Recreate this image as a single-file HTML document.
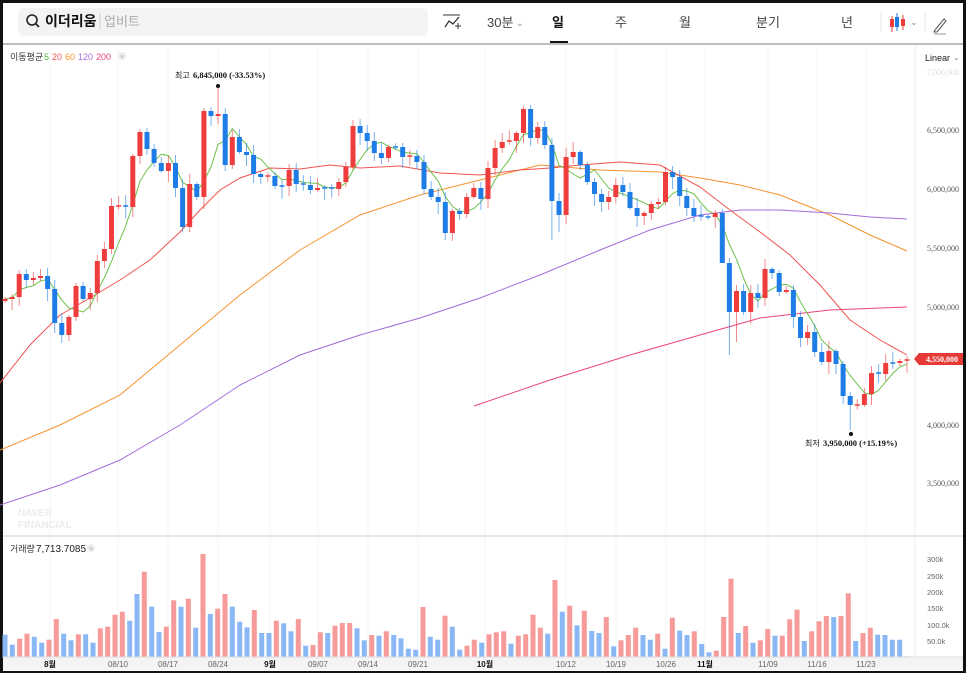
<!DOCTYPE html>
<html><head><meta charset="utf-8"><style>
*{margin:0;padding:0;box-sizing:border-box}
body{width:966px;height:673px;background:#111;overflow:hidden;font-family:"Liberation Sans","Noto Sans CJK KR",sans-serif}
#w{position:absolute;left:3px;top:3px;width:960px;height:668px;background:#fff;overflow:hidden}
</style></head><body>
<div id="w"></div>
<svg id="s" width="966" height="673" style="position:absolute;left:0;top:0" xmlns="http://www.w3.org/2000/svg"></svg>
<script>
(function(){
var S=document.getElementById('s');var h='';
function L(x1,y1,x2,y2,c,w,op){h+='<line x1="'+x1+'" y1="'+y1+'" x2="'+x2+'" y2="'+y2+'" stroke="'+c+'" stroke-width="'+(w||1)+'"'+(op?' opacity="'+op+'"':'')+'/>';}
function R(x,y,w,hh,c,o){h+='<rect x="'+x+'" y="'+y+'" width="'+w+'" height="'+hh+'" fill="'+c+'"'+(o?' opacity="'+o+'"':'')+'/>';}
function T(x,y,s,sz,c,extra){h+='<text x="'+x+'" y="'+y+'" font-size="'+sz+'" fill="'+c+'" '+(extra||'')+'>'+s+'</text>';}
function P(pts,c,w){h+='<polyline fill="none" stroke="'+c+'" stroke-width="'+(w||1)+'" points="'+pts.map(function(p){return p.join(',')}).join(' ')+'"/>';}
// top bar
R(3,3,960,41,'#fff');
h+='<rect x="18" y="8" width="410" height="28" rx="5" fill="#f2f3f5"/>';
h+='<circle cx="32" cy="20" r="5" fill="none" stroke="#222" stroke-width="1.6"/>';L(36,24,39,27,'#222',1.8);
T(45,26,'이더리움',14,'#111','font-weight="bold"');
L(100,13,100,29,'#ccc');T(104,26,'업비트',13,'#aaa');
P([[445,27],[449,21],[453,24],[459,17]],'#333',1.3);L(443,15,460,15,'#333',1);L(455,26,461,26,'#333',1);L(458,23,458,29,'#333',1);
T(487,27,'30분',13,'#444');T(516,26,'⌄',9,'#888');
T(552,27,'일',13,'#111','font-weight="bold"');R(550,41,18,3,'#111');
T(615,27,'주',13,'#444');T(679,27,'월',13,'#444');T(756,27,'분기',13,'#444');T(841,27,'년',13,'#444');
L(881,12,881,32,'#e5e5e5');L(925,12,925,32,'#e5e5e5');
L(892,16,892,32,'#ef3c3c');R(890,19,4,8,'#ef3c3c');L(897,13,897,31,'#1e7ce6');R(895,17,4,10,'#1e7ce6');L(903,15,903,30,'#ef3c3c');R(901,19,4,7,'#ef3c3c');
T(910,25,'⌄',9,'#888');
P([[935,30],[944,19],[946,21],[937,32],[934,32],[935,30]],'#555',1);L(934,34,946,34,'#999');
R(3,43,960,2,'#bdbdbd');
var gx=[50,118,168,218,270,318,368,418,485,566,616,666,705,768,817,866];
gx.forEach(function(x){L(x,45,x,656,'#f4f4f4');});
L(915,45,915,656,'#eee');
T(10,60,'이동평균',9,'#333');T(44,60,'5',9,'#56b848');T(52,60,'20',9,'#ef5350');T(65,60,'60',9,'#f7932f');T(78,60,'120',9,'#a46cdb');T(96,60,'200',9,'#e8457c');
h+='<circle cx="122" cy="56" r="4" fill="#eee"/>';T(120,59,'×',7,'#aaa');
T(925,61,'Linear',9,'#222');T(953,60,'⌄',8,'#888');
[[130,'6,500,000'],[189,'6,000,000'],[248,'5,500,000'],[307,'5,000,000'],[425,'4,000,000'],[483,'3,500,000']].forEach(function(a){T(927,a[0]+3,a[1],8,'#555','font-family="Liberation Serif"');});
T(927,75,'7,000,000',8,'#ddd','font-family="Liberation Serif"');
T(18,516,'NAVER',10,'#ececec','font-weight="bold"');T(18,528,'FINANCIAL',10,'#ececec','font-weight="bold"');
P([[0,450],[60,425],[120,395],[180,345],[240,295],[300,250],[360,215],[420,195],[480,180],[540,165],[600,170],[660,172],[700,178],[740,185],[780,195],[830,215],[870,235],[907,251]],'#f7932f');
P([[0,505],[60,485],[120,460],[180,425],[240,385],[300,355],[360,335],[420,318],[480,298],[540,275],[600,250],[650,230],[700,215],[740,210],[780,210],[830,213],[870,217],[907,219]],'#a46cdb');
P([[474,406],[550,380],[630,355],[700,335],[760,318],[830,310],[907,307]],'#e8457c');
P([[0,383],[30,345],[60,315],[90,298],[120,280],[150,260],[180,232],[200,210],[220,190],[240,178],[270,168],[300,169],[330,165],[360,168],[400,166],[440,173],[480,175],[520,170],[550,168],[580,165],[620,162],[660,165],[700,187],[730,210],[760,232],[790,255],[820,285],[850,320],[880,340],[907,355]],'#ef5350');
var C=[299,297,274,280,278,276,289,323,335,317,286,299,293,261,249,206,206,207,156,132,149,163,171,163,188,227,184,197,111,116,114,165,137,152,155,174,177,176,186,186,170,184,185,190,188,188,189,182,167,126,133,141,153,158,147,147,157,156,162,189,197,202,233,211,214,197,188,199,168,148,142,141,133,109,138,127,145,201,215,157,152,165,182,194,202,197,185,192,208,216,213,204,202,172,177,196,208,216,217,217,213,263,312,291,312,293,298,269,273,292,290,317,338,332,352,362,351,364,396,405,405,394,373,374,363,363,361,360];
var st=902/(C.length-1);
var ov={30:[88,0],119:[0,430],77:[0,240],78:[0,232],102:[0,355],103:[0,342],62:[0,240],25:[0,232],101:[0,230]};
var m5=[];
for(var i=0;i<C.length;i++){var s=0,n=0;for(var k=Math.max(0,i-4);k<=i;k++){s+=C[k];n++;}m5.push([+(5+i*st).toFixed(1),+(s/n).toFixed(1)]);}
P(m5,'#6cc24a');
for(var i=0;i<C.length;i++){
 var x=5+i*st,o=i?C[i-1]:C[i]+2,c=C[i];
 var up=c<o||(c==o&&i%2==0);var col=up?'#ef3c3c':'#1e7ce6';
 var bt=Math.min(o,c),bb=Math.max(o,c);if(bb-bt<1.5){bt-=0.75;bb=bt+1.5;}
 var hi=bt-(2+(i*37%9)),lo=bb+(2+(i*53%11));
 if(ov[i]){if(ov[i][0])hi=ov[i][0];if(ov[i][1])lo=ov[i][1];}
 L(x.toFixed(1),hi,x.toFixed(1),lo,col,1,0.6);
 R((x-2.5).toFixed(1),bt,5,(bb-bt).toFixed(1),col);
}
h+='<circle cx="218" cy="86" r="2" fill="#111"/>';
T(175,78,'최고',8,'#111');T(193,78,'6,845,000 (-33.53%)',8.5,'#111','font-family="Liberation Serif" font-weight="bold"');
h+='<circle cx="851" cy="434" r="2" fill="#111"/>';
T(805,446,'최저',8,'#111');T(823,446,'3,950,000 (+15.19%)',8.5,'#111','font-family="Liberation Serif" font-weight="bold"');
h+='<path d="M914,359 L919,353 L963,353 L963,365 L919,365 Z" fill="#e53935"/>';
T(926,362,'4,550,000',8,'#fff','font-family="Liberation Serif" font-weight="bold"');
R(3,535,960,2,'#e6e6e6');
T(10,552,'거래량',9,'#333');T(36,552,'7,713.7085',10,'#222');
h+='<circle cx="91" cy="548" r="4" fill="#eee"/>';T(89,551,'×',7,'#aaa');
[[559,'300k'],[576,'250k'],[592,'200k'],[608,'150k'],[625,'100.0k'],[641,'50.0k']].forEach(function(a){T(927,a[0]+3,a[1],7.5,'#666');});
var V='315b,345b,327r,312r,321b,339b,330r,268r,312b,332b,314r,314b,339b,296r,291r,255r,246r,273b,193b,126r,231b,307b,291r,212r,231b,207r,294b,73r,253b,237r,193r,231b,276b,293b,241r,310b,310b,273r,281b,305b,268r,348b,346r,308r,310b,288r,280r,280r,296b,332b,316r,318b,305r,316b,326b,357b,360b,232r,321b,330b,258r,291b,360b,348r,330r,339b,314r,308r,305r,342b,318r,314r,255r,294r,312b,151r,246b,228r,287b,243r,304b,310b,262r,350b,332r,316r,294r,316b,330b,312r,357b,264r,303b,316b,305r,343b,368b,363r,262r,147r,310b,289r,339b,332r,298r,318b,318r,269r,240r,334b,305r,275r,259r,262b,259r,191r,334b,310r,294r,315b,316b,330b,330b,380b'.split(',');
var vs=902/(V.length-1);
V.forEach(function(v,i){var t=parseInt(v),hh=(385-t)/3,x=5+i*vs;R((x-2.5).toFixed(1),(658-hh).toFixed(1),5,hh.toFixed(1),v.slice(-1)=='r'?'#f79a9a':'#8ab8f5');});
R(3,657,960,13,'#f4f4f4');L(3,657,963,657,'#ddd');
[[50,'8월',1],[118,'08/10'],[168,'08/17'],[218,'08/24'],[270,'9월',1],[318,'09/07'],[368,'09/14'],[418,'09/21'],[485,'10월',1],[566,'10/12'],[616,'10/19'],[666,'10/26'],[705,'11월',1],[768,'11/09'],[817,'11/16'],[866,'11/23']].forEach(function(a){T(a[0],667,a[1],8,a[2]?'#111':'#666','text-anchor="middle"'+(a[2]?' font-weight="bold"':''));});
S.innerHTML=h;
})();
</script>
</body></html>
